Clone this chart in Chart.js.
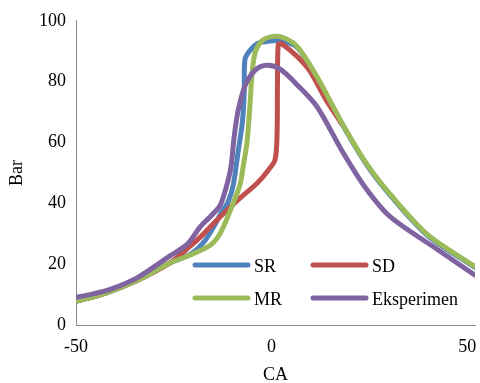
<!DOCTYPE html>
<html>
<head>
<meta charset="utf-8">
<script src="https://cdn.jsdelivr.net/npm/chart.js@4.4.1/dist/chart.umd.min.js"></script>
<style>
  html, body { margin: 0; padding: 0; background: #fff; }
</style>
</head>
<body>
<canvas id="chart" width="480" height="383"></canvas>
<script>
// --- datos ---
const SERIES_NAMES = ['SR', 'SD', 'MR', 'Eksperimen'];
const X_TICKS = [-50, 0, 50];

const srCA  = [-50, -42.6, -34.4, -26.0, -20.8, -17.5, -15.2, -12.7, -11.1, -9.8, -8.6, -7.5, -7.0, -6.8, -5.5, -3.5, -1.2, 1.7, 6.5, 11.6, 18.3, 24.4, 30.3, 39.8, 52];
const srBar = [7.8, 10.4, 14.6, 20.4, 23.2, 27.0, 31.4, 37.2, 40.5, 46.0, 56.6, 66.3, 76.1, 87.4, 90.3, 92.6, 93.2, 93.5, 91.3, 81.2, 65.4, 52.5, 42.7, 29.5, 18.9];

const sdCA  = [-50, -42.6, -34.4, -26.0, -20.8, -18.3, -13.9, -8.1, -3.7, -0.9, 0.9, 1.4, 1.5, 1.7, 2.4, 6.5, 9.8, 13.7, 18.0];
const sdBar = [7.8, 10.4, 14.6, 20.4, 25.9, 28.8, 34.6, 41.7, 46.6, 50.8, 54.4, 63.1, 79.3, 92.2, 92.6, 88.3, 83.5, 74.5, 66.0];

const mrCA  = [-50, -42.6, -34.4, -26.0, -20.8, -15.7, -13.2, -10.6, -8.1, -7.3, -6.3, -5.5, -5.0, -4.2, -2.4, 0.1, 2.9, 6.5, 11.6, 18.3, 24.4, 30.3, 39.8, 52];
const mrBar = [7.8, 10.4, 14.6, 20.4, 23.0, 26.2, 30.0, 37.5, 46.0, 51.8, 59.9, 72.8, 82.5, 89.6, 93.5, 94.8, 94.5, 91.6, 81.6, 65.7, 52.8, 43.0, 29.8, 19.2];

const expCA  = [-50, -46.4, -41.3, -34.4, -26.0, -21.6, -18.3, -15.7, -13.2, -11.6, -10.4, -9.6, -8.6, -6.8, -4.2, -1.2, 2.2, 6.5, 11.6, 18.3, 23.9, 30.3, 42.3, 51.8];
const expBar = [9.1, 10.0, 11.7, 15.5, 22.7, 26.5, 32.2, 35.6, 39.2, 45.3, 51.8, 61.5, 70.2, 78.6, 83.8, 85.4, 84.1, 79.0, 71.8, 56.6, 45.3, 35.6, 24.9, 16.5];

const COLORS = ['#4F81BD', '#C0504D', '#9BBB59', '#8064A2'];
const FONT = { family: '"Liberation Serif", "Times New Roman", serif', size: 18 };

function toPoints(xs, ys) {
  return xs.map((x, i) => ({ x, y: ys[i] }));
}

const seriesData = [
  toPoints(srCA, srBar),
  toPoints(sdCA, sdBar),
  toPoints(mrCA, mrBar),
  toPoints(expCA, expBar)
];

// leyenda dentro del área de trazado (2 x 2)
const insideLegend = {
  id: 'insideLegend',
  afterDraw(chart) {
    const ctx = chart.ctx;
    const cols = [195, 313];
    const rows = [265, 298];
    ctx.save();
    ctx.font = `${FONT.size}px ${FONT.family}`;
    ctx.fillStyle = '#000';
    ctx.textBaseline = 'middle';
    ctx.lineWidth = 5;
    ctx.lineCap = 'round';
    SERIES_NAMES.forEach((name, i) => {
      const x = cols[i % 2];
      const y = rows[Math.floor(i / 2)];
      ctx.strokeStyle = COLORS[i];
      ctx.beginPath();
      ctx.moveTo(x, y);
      ctx.lineTo(x + 53, y);
      ctx.stroke();
      ctx.fillText(name, x + 59, y + 2);
    });
    ctx.restore();
  }
};

new Chart(document.getElementById('chart'), {
  type: 'line',
  data: {
    datasets: SERIES_NAMES.map((name, i) => ({
      label: name,
      data: seriesData[i],
      borderColor: COLORS[i],
      backgroundColor: COLORS[i],
      order: SERIES_NAMES.length - i
    }))
  },
  options: {
    responsive: false,
    animation: false,
    layout: { padding: { top: 16, right: 5, left: 0, bottom: 0 } },
    elements: {
      point: { radius: 0 },
      line: { borderWidth: 5, tension: 0.3, borderCapStyle: 'round', borderJoinStyle: 'round', fill: false }
    },
    plugins: {
      legend: { display: false },
      tooltip: { enabled: false }
    },
    scales: {
      x: {
        type: 'linear',
        min: -50,
        max: 52,
        grid: { display: false, drawTicks: false },
        border: { display: true, color: '#8c8c8c', width: 1 },
        afterBuildTicks: s => { s.ticks = X_TICKS.map(v => ({ value: v })); },
        ticks: { font: FONT, color: '#000', padding: 11, maxRotation: 0 },
        title: { display: true, text: 'CA', font: FONT, color: '#000', padding: { top: 0, bottom: -3 } },
        afterFit: s => { s.height = 58; s.paddingLeft = 0; s.paddingRight = 0; }
      },
      y: {
        min: 0,
        max: 100,
        grid: { display: false, drawTicks: false },
        border: { display: true, color: '#8c8c8c', width: 1 },
        ticks: { stepSize: 20, font: FONT, color: '#000', padding: 10 },
        title: { display: true, text: 'Bar', font: FONT, color: '#000', padding: { top: 6, bottom: 0 } },
        afterFit: s => { s.width = 76; }
      }
    }
  },
  plugins: [insideLegend]
});
</script>
</body>
</html>
